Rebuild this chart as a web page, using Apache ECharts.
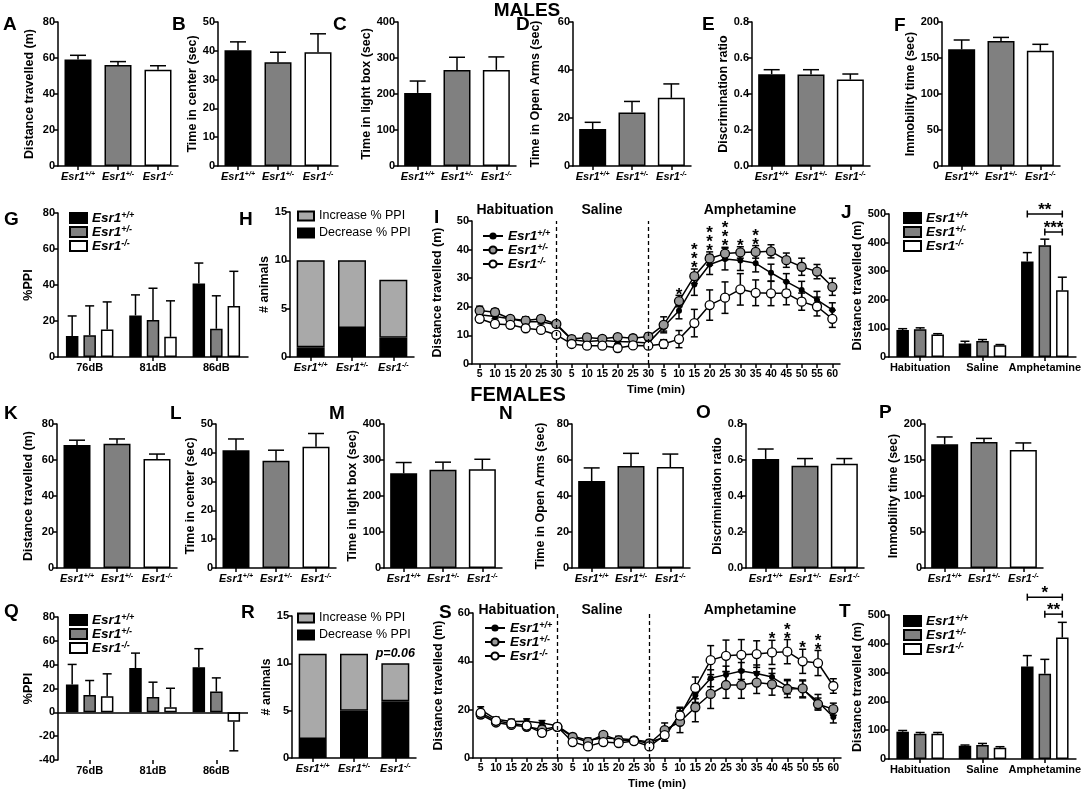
<!DOCTYPE html>
<html>
<head>
<meta charset="utf-8">
<script src="https://cdn.jsdelivr.net/npm/echarts@6/dist/echarts.min.js"></script>
<style>
html, body { margin: 0; padding: 0; background: #fff; }
#main { width: 1084px; height: 793px; }
</style>
</head>
<body>
<div id="main"></div>
<script>
// categories
var genos = ['+/+', '+/-', '-/-'];
var dbLevels = ['76dB', '81dB', '86dB'];
var phases = ['Habituation', 'Saline', 'Amphetamine'];
var timeLabels = ['5', '10', '15', '20', '25', '30', '5', '10', '15', '20', '25', '30',
  '5', '10', '15', '20', '25', '30', '35', '40', '45', '50', '55', '60'];
var ppiTypes = ['Increase % PPI', 'Decrease % PPI'];

// males, behaviour (mean / sem per genotype)
var mDist = [59.1, 56.1, 53.5],    mDistErr = [2.4, 1.9, 2.2];
var mCenter = [40.2, 36.0, 39.5],  mCenterErr = [2.9, 3.5, 6.4];
var mLight = [203, 267, 267],      mLightErr = [33, 35, 36];
var mOpen = [15.4, 22.3, 28.4],    mOpenErr = [2.8, 4.6, 5.8];
var mDisc = [0.51, 0.508, 0.48],   mDiscErr = [0.025, 0.027, 0.031];
var mImmob = [162, 173.6, 160],    mImmobErr = [13, 5, 9];
// females, behaviour
var fDist = [68.3, 69.0, 60.5],    fDistErr = [2.7, 2.7, 2.8];
var fCenter = [40.9, 37.2, 42.1],  fCenterErr = [3.9, 3.7, 4.6];
var fLight = [263, 273, 274],      fLightErr = [30, 21, 28];
var fOpen = [48.3, 56.7, 56.1],    fOpenErr = [7.3, 7.0, 7.2];
var fDisc = [0.606, 0.568, 0.579], fDiscErr = [0.055, 0.04, 0.029];
var fImmob = [171.8, 175, 164],    fImmobErr = [10.2, 5, 9.7];

// %PPI, one row per genotype across 76/81/86 dB
var mPPI = [[11.6, 23.1, 40.9], [12.1, 20.5, 15.7], [15.3, 11.2, 28.4]];
var mPPIErr = [[11.2, 11.4, 11.3], [16.3, 17.7, 18.3], [15.3, 20.0, 19.2]];
var fPPI = [[23.3, 37.1, 37.9], [14.6, 12.9, 17.4], [13.5, 4.2, -7.9]];
var fPPIErr = [[16.9, 12.6, 15.5], [12.1, 12.4, 11.5], [18.8, 16.0, 24.4]];

// number of animals with increase / decrease of PPI
var mIncrease = [9, 7, 6], mDecrease = [1, 3, 2];
var fIncrease = [9, 6, 4], fDecrease = [2, 5, 6];
var fPpiNote = ['', '', 'p=0.06'];

// locomotion time course (m per 5 min)
var mTimeWT = [17.2, 16.6, 15.8, 14.8, 14.8, 13.7, 8.5, 7.9, 8.2, 7.9, 7.7, 7.3,
  13.0, 18.6, 27.8, 34.8, 36.7, 36.2, 35.2, 31.9, 28.8, 25.9, 22.4, 18.9];
var mTimeHet = [18.7, 18.1, 15.8, 15.2, 15.8, 14.0, 8.7, 9.3, 8.8, 9.4, 9.0, 9.6,
  13.7, 22.0, 30.7, 36.9, 38.6, 39.0, 39.2, 39.4, 36.3, 34.0, 32.3, 27.0];
var mTimeKO = [15.8, 14.0, 13.7, 12.5, 11.9, 10.2, 7.0, 6.4, 6.4, 5.6, 6.5, 6.4,
  7.0, 8.7, 14.3, 20.6, 23.2, 26.1, 24.9, 24.7, 24.7, 21.8, 20.1, 15.8];
var mTimeWTErr = [0.8, 0.8, 0.8, 0.8, 0.8, 0.8, 0.8, 0.8, 0.8, 0.8, 0.8, 0.8,
  1.5, 2.8, 3.8, 3.5, 3.8, 3.5, 3.0, 3.0, 2.8, 3.0, 3.0, 2.5];
var mTimeHetErr = [1.5, 1.2, 1.0, 1.3, 1.0, 1.0, 1.2, 1.2, 1.0, 1.0, 1.0, 1.2,
  2.8, 2.0, 2.5, 2.3, 2.2, 2.0, 2.2, 2.3, 2.5, 3.0, 2.5, 3.0];
var mTimeKOErr = [1.0, 1.0, 1.0, 1.0, 1.0, 1.0, 1.0, 1.0, 1.0, 1.2, 1.0, 1.0,
  1.5, 3.0, 4.8, 5.3, 5.5, 5.5, 4.5, 4.3, 4.0, 3.0, 3.3, 3.0];
var mTimeSig = ['', '', '', '', '', '', '', '', '', '', '', '',
  '', '*', '***', '***', '***', '*', '**', '', '', '', '', ''];

var fTimeWT = [20.0, 16.0, 15.1, 15.2, 14.5, 13.3, 9.1, 7.3, 8.3, 8.0, 7.6, 6.6,
  8.5, 18.5, 26.0, 33.0, 34.5, 36.0, 35.0, 33.5, 29.5, 28.4, 23.3, 17.0];
var fTimeHet = [18.0, 14.7, 13.7, 12.9, 11.8, 12.9, 8.7, 6.6, 9.6, 7.3, 7.3, 6.0,
  11.5, 15.0, 21.0, 26.5, 30.2, 30.2, 31.2, 30.5, 28.5, 28.8, 22.3, 20.2];
var fTimeKO = [18.7, 15.4, 14.3, 13.4, 10.4, 12.9, 6.6, 4.8, 6.6, 6.2, 7.0, 4.8,
  9.5, 17.5, 29.0, 40.5, 42.3, 42.7, 43.0, 43.7, 44.0, 40.0, 39.3, 29.8];
var fTimeWTErr = [1.2, 1.0, 1.0, 1.0, 1.0, 1.0, 1.0, 1.0, 1.0, 1.0, 1.0, 1.0,
  1.5, 2.5, 3.0, 3.5, 3.5, 3.5, 3.5, 3.5, 3.0, 3.5, 3.0, 2.5];
var fTimeHetErr = [1.5, 1.2, 1.2, 1.2, 1.5, 1.2, 1.0, 1.0, 1.0, 1.0, 1.0, 1.0,
  3.0, 4.5, 6.0, 6.0, 5.5, 5.5, 4.5, 4.5, 3.5, 3.5, 2.5, 2.5];
var fTimeKOErr = [1.2, 1.0, 1.0, 1.0, 1.2, 1.0, 1.0, 1.0, 1.0, 1.0, 1.0, 1.0,
  2.5, 3.0, 4.5, 6.0, 6.5, 6.3, 5.5, 5.0, 5.0, 5.0, 5.2, 3.0];
var fTimeSig = ['', '', '', '', '', '', '', '', '', '', '', '',
  '', '', '', '', '', '', '', '*', '**', '*', '**', ''];

// total distance per phase, one row per genotype across phases
var mLoco = [[94, 47, 334], [97, 56, 391], [78.5, 41, 233]];
var mLocoErr = [[5, 8, 31], [5, 5, 21], [3, 2.5, 46]];
var fLoco = [[94.7, 46, 321], [87.8, 48.5, 295.6], [87.8, 39, 421.5]];
var fLocoErr = [[4.3, 2.5, 38], [4.2, 5.5, 50.4], [4.2, 3.7, 53]];
var mLocoSigPairs = [[0, 2], [1, 2]], mLocoSigLevel = [500, 437], mLocoSigText = ['**', '***'];
var fLocoSigPairs = [[0, 2], [1, 2]], fLocoSigLevel = [562, 503], fLocoSigText = ['*', '**'];

// ---------------------------------------------------------------
var FONT = 'Liberation Sans, Arial, sans-serif';
var fills = ['#000000', '#808080', '#ffffff'];
var symFill = ['#000000', '#999999', '#ffffff'];
var BAR_STEP = 17.5; // grouped bars: barWidth 12.5 + 40% gap

var grids = [], xAxes = [], yAxes = [], series = [], legends = [], graphics = [];

function geno(g) { return '{g|Esr1}{s|' + g + '}'; }
function genoRich(size, lh) {
  return {
    g: { fontFamily: FONT, fontWeight: 'bold', fontStyle: 'italic', fontSize: size, lineHeight: lh, color: '#000' },
    s: { fontFamily: FONT, fontWeight: 'bold', fontStyle: 'italic', fontSize: Math.round(size * 0.68), lineHeight: lh, color: '#000', verticalAlign: 'top' }
  };
}

function addGrid(box) {
  grids.push({ left: box[0], top: box[1], width: box[2], height: box[3] });
  return grids.length - 1;
}

function yAxis(gi, min, max, interval, name, nameGap, fmt) {
  yAxes.push({
    type: 'value', gridIndex: gi, min: min, max: max, interval: interval,
    name: name, nameLocation: 'middle', nameGap: nameGap,
    nameTextStyle: { fontFamily: FONT, fontWeight: 'bold', fontSize: 12.5, color: '#000' },
    axisLine: { show: true, lineStyle: { color: '#000', width: 1.5 } },
    axisTick: { show: true, length: 4, lineStyle: { color: '#000', width: 1.5 } },
    axisLabel: { fontFamily: FONT, fontWeight: 'bold', fontSize: 11, color: '#000', margin: 3, formatter: fmt },
    splitLine: { show: false }
  });
}

function xAxis(gi, data, fmt, rich, extra) {
  var ax = {
    type: 'category', gridIndex: gi, data: data,
    axisLine: { show: true, onZero: false, lineStyle: { color: '#000', width: 1.5 } },
    axisTick: { show: true, alignWithLabel: true, length: 4, lineStyle: { color: '#000', width: 1.5 } },
    axisLabel: { interval: 0, fontFamily: FONT, fontWeight: 'bold', fontSize: 11, color: '#000', margin: 5, formatter: fmt, rich: rich },
    splitLine: { show: false }
  };
  for (var k in extra) ax[k] = extra[k];
  xAxes.push(ax);
}

function errSeries(gi, vals, errs, offset, capHalf, both, z) {
  return {
    type: 'custom', xAxisIndex: gi, yAxisIndex: gi, z: z || 3, silent: true,
    encode: { x: 0, y: 1 },
    data: vals.map(function (v, i) { return [i, v, errs[i]]; }),
    renderItem: function (params, api) {
      var i = api.value(0), m = api.value(1), e = api.value(2);
      var dir = m < 0 ? -1 : 1;
      var base = api.coord([i, m]);
      var top = api.coord([i, m + dir * e]);
      var bot = api.coord([i, m - dir * e]);
      var x = base[0] + offset;
      var st = { stroke: '#000', lineWidth: 1.5 };
      var ch = [
        { type: 'line', shape: { x1: x, y1: both ? bot[1] : base[1], x2: x, y2: top[1] }, style: st },
        { type: 'line', shape: { x1: x - capHalf, y1: top[1], x2: x + capHalf, y2: top[1] }, style: st }
      ];
      if (both) ch.push({ type: 'line', shape: { x1: x - capHalf, y1: bot[1], x2: x + capHalf, y2: bot[1] }, style: st });
      return { type: 'group', children: ch };
    }
  };
}

function text(str, x, y, size, extra) {
  var st = { text: str, fontFamily: FONT, fontWeight: 'bold', fontSize: size, fill: '#000', align: 'center', verticalAlign: 'middle' };
  for (var k in extra) st[k] = extra[k];
  graphics.push({ type: 'text', x: x, y: y, style: st, silent: true });
}

// simple 3-bar panel
function barPanel(p) {
  var gi = addGrid(p.box);
  xAxis(gi, genos, geno, genoRich(11));
  yAxis(gi, 0, p.max, p.interval, p.name, p.nameGap, p.fmt);
  series.push({
    type: 'bar', xAxisIndex: gi, yAxisIndex: gi, barWidth: 27, silent: true,
    itemStyle: { borderColor: '#000', borderWidth: 1.5 },
    data: p.vals.map(function (v, i) { return { value: v, itemStyle: { color: fills[i] } }; })
  });
  series.push(errSeries(gi, p.vals, p.errs, 0, 8, false));
  text(p.letter, p.lp[0], p.lp[1], 19, { align: 'left' });
}

// grouped bars: 3 genotypes per category
function groupPanel(p) {
  var gi = addGrid(p.box);
  xAxis(gi, p.cats, null, null, {});
  yAxis(gi, p.min, p.max, p.interval, p.name, p.nameGap);
  var names = [];
  for (var k = 0; k < 3; k++) {
    var nm = p.key + '_' + k;
    names.push(nm);
    var s = {
      type: 'bar', name: nm, xAxisIndex: gi, yAxisIndex: gi, barWidth: 12.5, barGap: '40%', silent: true,
      itemStyle: { color: fills[k], borderColor: '#000', borderWidth: 1.5 },
      data: p.vals[k]
    };
    if (k === 0 && p.zeroLine) {
      s.markLine = { silent: true, symbol: 'none', label: { show: false },
        lineStyle: { color: '#000', width: 1.5, type: 'solid' }, data: [{ yAxis: 0 }] };
    }
    series.push(s);
  }
  for (k = 0; k < 3; k++) series.push(errSeries(gi, p.vals[k], p.errs[k], (k - 1) * BAR_STEP, 4.5, false));
  if (p.sigPairs) {
    series.push({
      type: 'custom', xAxisIndex: gi, yAxisIndex: gi, silent: true, z: 4,
      encode: { x: 0, y: 1 },
      data: p.sigLevel.map(function (lv, j) { return [p.sigCat, lv, j]; }),
      renderItem: function (params, api) {
        var j = api.value(2);
        var c = api.coord([api.value(0), api.value(1)]);
        var x1 = c[0] + (p.sigPairs[j][0] - 1) * BAR_STEP;
        var x2 = c[0] + (p.sigPairs[j][1] - 1) * BAR_STEP;
        var st = { stroke: '#000', lineWidth: 1.5 };
        return { type: 'group', children: [
          { type: 'line', shape: { x1: x1, y1: c[1], x2: x2, y2: c[1] }, style: st },
          { type: 'line', shape: { x1: x1, y1: c[1] - 3.5, x2: x1, y2: c[1] + 3.5 }, style: st },
          { type: 'line', shape: { x1: x2, y1: c[1] - 3.5, x2: x2, y2: c[1] + 3.5 }, style: st },
          { type: 'text', x: (x1 + x2) / 2, y: c[1] + 5, style: { text: p.sigText[j], fontFamily: FONT, fontWeight: 'bold', fontSize: 17, fill: '#000', align: 'center', verticalAlign: 'bottom' } }
        ] };
      }
    });
  }
  legends.push({
    data: names, left: p.legend[0], top: p.legend[1], orient: 'vertical', padding: 0,
    icon: 'rect', itemWidth: 17, itemHeight: 10, itemGap: 0, selectedMode: false,
    formatter: function (n) { return geno(genos[+n.slice(-1)]); },
    textStyle: { rich: genoRich(13.5, 14) }
  });
  text(p.letter, p.lp[0], p.lp[1], 19, { align: 'left' });
}

// stacked increase/decrease bars
function stackPanel(p) {
  var gi = addGrid(p.box);
  xAxis(gi, genos, geno, genoRich(11));
  yAxis(gi, 0, 15, 5, '# animals', p.nameGap);
  series.push({
    type: 'bar', name: ppiTypes[1], stack: p.key, xAxisIndex: gi, yAxisIndex: gi, barWidth: 28, silent: true,
    itemStyle: { color: '#000', borderColor: '#000', borderWidth: 1.5 }, data: p.dec
  });
  series.push({
    type: 'bar', name: ppiTypes[0], stack: p.key, xAxisIndex: gi, yAxisIndex: gi, barWidth: 28, silent: true,
    itemStyle: { color: '#a9a9a9', borderColor: '#000', borderWidth: 1.5 },
    data: p.inc.map(function (v, i) {
      var note = p.note ? p.note[i] : '';
      return note ? { value: v, label: { show: true, position: 'top', distance: 3, formatter: note,
        fontFamily: FONT, fontWeight: 'bold', fontStyle: 'italic', fontSize: 12.5, color: '#000' } } : v;
    })
  });
  legends.push({
    data: ppiTypes, left: p.legend[0], top: p.legend[1], orient: 'vertical', padding: 0,
    icon: 'rect', itemWidth: 16, itemHeight: 9, itemGap: 3, selectedMode: false,
    textStyle: { fontFamily: FONT, fontSize: 12.5, lineHeight: 14, color: '#000' }
  });
  text(p.letter, p.lp[0], p.lp[1], 19, { align: 'left' });
}

// time course line panel
function linePanel(p) {
  var gi = addGrid(p.box);
  xAxis(gi, timeLabels.map(function (t, i) { return String(i); }),
    function (v, i) { return timeLabels[i]; }, null,
    { name: 'Time (min)', nameLocation: 'middle', nameGap: 20,
      nameTextStyle: { fontFamily: FONT, fontWeight: 'bold', fontSize: 11.5, color: '#000' } });
  xAxes[gi].axisLabel.fontSize = 10.5;
  yAxis(gi, 0, p.max, p.interval, 'Distance travelled (m)', p.nameGap);
  var k, names = [];
  for (k = 0; k < 3; k++) series.push(errSeries(gi, p.vals[k], p.errs[k], 0, 3.5, true, 2));
  for (k = 0; k < 3; k++) {
    var nm = p.key + '_' + k;
    names.push(nm);
    var s = {
      type: 'line', name: nm, xAxisIndex: gi, yAxisIndex: gi, z: 3, silent: true,
      data: p.vals[k], symbol: 'circle', symbolSize: k === 0 ? 6 : 9,
      lineStyle: { color: '#000', width: 1.5 },
      itemStyle: { color: symFill[k], borderColor: '#000', borderWidth: k === 0 ? 0 : 1.3 }
    };
    if (k === 0) {
      s.markLine = { silent: true, symbol: 'none', label: { show: false },
        lineStyle: { color: '#000', width: 1.3, type: [4, 3] },
        data: [{ xAxis: 5 }, { xAxis: 11 }] };
    }
    series.push(s);
  }
  series.push({
    type: 'custom', xAxisIndex: gi, yAxisIndex: gi, silent: true, z: 4,
    encode: { x: 0, y: 1 },
    data: p.sig.map(function (s, i) {
      var t = Math.max(p.vals[0][i] + p.errs[0][i], p.vals[1][i] + p.errs[1][i], p.vals[2][i] + p.errs[2][i]);
      return s ? [i, t] : null;
    }).filter(function (d) { return d; }),
    renderItem: function (params, api) {
      var c = api.coord([api.value(0), api.value(1)]);
      var s = p.sig[api.value(0)];
      return { type: 'text', x: c[0], y: c[1] + 4, style: {
        text: s.split('').join('\n'), fontFamily: FONT, fontWeight: 'bold', fontSize: 17, lineHeight: 9,
        fill: '#000', align: 'center', verticalAlign: 'bottom' } };
    }
  });
  legends.push({
    data: names, left: p.legend[0], top: p.legend[1], orient: 'vertical', padding: 0,
    itemWidth: 20, itemHeight: 9, itemGap: 0, selectedMode: false,
    formatter: function (n) { return geno(genos[+n.slice(-1)]); },
    textStyle: { rich: genoRich(13.5, 13.5) }
  });
  for (k = 0; k < 3; k++) text(phases[k], p.phaseX[k], p.phaseY, 14);
  text(p.letter, p.lp[0], p.lp[1], 19, { align: 'left' });
}

function dec1(v) { return v.toFixed(1); }

// ---------------- MALES ----------------
text('MALES', 527, 11, 19);
barPanel({ letter: 'A', lp: [3, 25], box: [58, 22, 120, 144], vals: mDist, errs: mDistErr, max: 80, interval: 20, name: 'Distance travelled (m)', nameGap: 22 });
barPanel({ letter: 'B', lp: [172, 25], box: [218, 22, 120, 144], vals: mCenter, errs: mCenterErr, max: 50, interval: 10, name: 'Time in center (sec)', nameGap: 17 });
barPanel({ letter: 'C', lp: [333, 25], box: [398, 22, 118, 144], vals: mLight, errs: mLightErr, max: 400, interval: 100, name: 'Time in light box (sec)', nameGap: 24 });
barPanel({ letter: 'D', lp: [516, 25], box: [573, 22, 118, 144], vals: mOpen, errs: mOpenErr, max: 60, interval: 20, name: 'Time in Open Arms (sec)', nameGap: 31 });
barPanel({ letter: 'E', lp: [702, 25], box: [752, 22, 118, 144], vals: mDisc, errs: mDiscErr, max: 0.8, interval: 0.2, name: 'Discrimination ratio', nameGap: 22, fmt: dec1 });
barPanel({ letter: 'F', lp: [894, 26], box: [942, 22, 118, 144], vals: mImmob, errs: mImmobErr, max: 200, interval: 50, name: 'Immobility time (sec)', nameGap: 23 });

groupPanel({ letter: 'G', lp: [4, 220], key: 'G', box: [58, 213, 190, 144], cats: dbLevels, vals: mPPI, errs: mPPIErr,
  min: 0, max: 80, interval: 20, name: '%PPI', nameGap: 23, legend: [69, 211] });
stackPanel({ letter: 'H', lp: [239, 220], key: 'H', box: [290, 212, 124, 145], inc: mIncrease, dec: mDecrease, nameGap: 18, legend: [297, 209] });
linePanel({ letter: 'I', lp: [434, 218], key: 'I', box: [472, 221, 368, 143], vals: [mTimeWT, mTimeHet, mTimeKO],
  errs: [mTimeWTErr, mTimeHetErr, mTimeKOErr], sig: mTimeSig, max: 50, interval: 10, nameGap: 28,
  legend: [482, 229], phaseX: [515, 602, 750], phaseY: 210 });
groupPanel({ letter: 'J', lp: [841, 213], key: 'J', box: [889, 214, 188, 143], cats: phases, vals: mLoco, errs: mLocoErr,
  min: 0, max: 500, interval: 100, name: 'Distance travelled (m)', nameGap: 24, legend: [903, 211],
  sigCat: 2, sigPairs: mLocoSigPairs, sigLevel: mLocoSigLevel, sigText: mLocoSigText });

// ---------------- FEMALES ----------------
text('FEMALES', 518, 395, 20);
barPanel({ letter: 'K', lp: [4, 414], box: [57, 424, 120, 144], vals: fDist, errs: fDistErr, max: 80, interval: 20, name: 'Distance travelled (m)', nameGap: 22 });
barPanel({ letter: 'L', lp: [170, 414], box: [216, 424, 120, 144], vals: fCenter, errs: fCenterErr, max: 50, interval: 10, name: 'Time in center (sec)', nameGap: 16 });
barPanel({ letter: 'M', lp: [329, 414], box: [384, 424, 118, 144], vals: fLight, errs: fLightErr, max: 400, interval: 100, name: 'Time in light box (sec)', nameGap: 24 });
barPanel({ letter: 'N', lp: [499, 414], box: [572, 424, 118, 144], vals: fOpen, errs: fOpenErr, max: 80, interval: 20, name: 'Time in Open Arms (sec)', nameGap: 25 });
barPanel({ letter: 'O', lp: [696, 413], box: [746, 424, 118, 144], vals: fDisc, errs: fDiscErr, max: 0.8, interval: 0.2, name: 'Discrimination ratio', nameGap: 22, fmt: dec1 });
barPanel({ letter: 'P', lp: [879, 413], box: [925, 424, 118, 144], vals: fImmob, errs: fImmobErr, max: 200, interval: 50, name: 'Immobility time (sec)', nameGap: 19 });

groupPanel({ letter: 'Q', lp: [4, 612], key: 'Q', box: [58, 617, 190, 143], cats: dbLevels, vals: fPPI, errs: fPPIErr,
  min: -40, max: 80, interval: 20, name: '%PPI', nameGap: 22, legend: [69, 613], zeroLine: true });
xAxes[xAxes.length - 1].axisLine.show = false;
stackPanel({ letter: 'R', lp: [241, 613], key: 'R', box: [292, 616, 124, 142], inc: fIncrease, dec: fDecrease, note: fPpiNote, nameGap: 18, legend: [297, 611] });
linePanel({ letter: 'S', lp: [439, 613], key: 'S', box: [473, 613, 368, 145], vals: [fTimeWT, fTimeHet, fTimeKO],
  errs: [fTimeWTErr, fTimeHetErr, fTimeKOErr], sig: fTimeSig, max: 60, interval: 20, nameGap: 28,
  legend: [484, 621], phaseX: [517, 602, 750], phaseY: 610 });
groupPanel({ letter: 'T', lp: [839, 612], key: 'T', box: [889, 615, 188, 144], cats: phases, vals: fLoco, errs: fLocoErr,
  min: 0, max: 500, interval: 100, name: 'Distance travelled (m)', nameGap: 24, legend: [903, 614],
  sigCat: 2, sigPairs: fLocoSigPairs, sigLevel: fLocoSigLevel, sigText: fLocoSigText });

var chart = echarts.init(document.getElementById('main'));
chart.setOption({
  animation: false,
  backgroundColor: '#ffffff',
  textStyle: { fontFamily: FONT },
  grid: grids,
  xAxis: xAxes,
  yAxis: yAxes,
  legend: legends,
  series: series,
  graphic: graphics
});
</script>
</body>
</html>
